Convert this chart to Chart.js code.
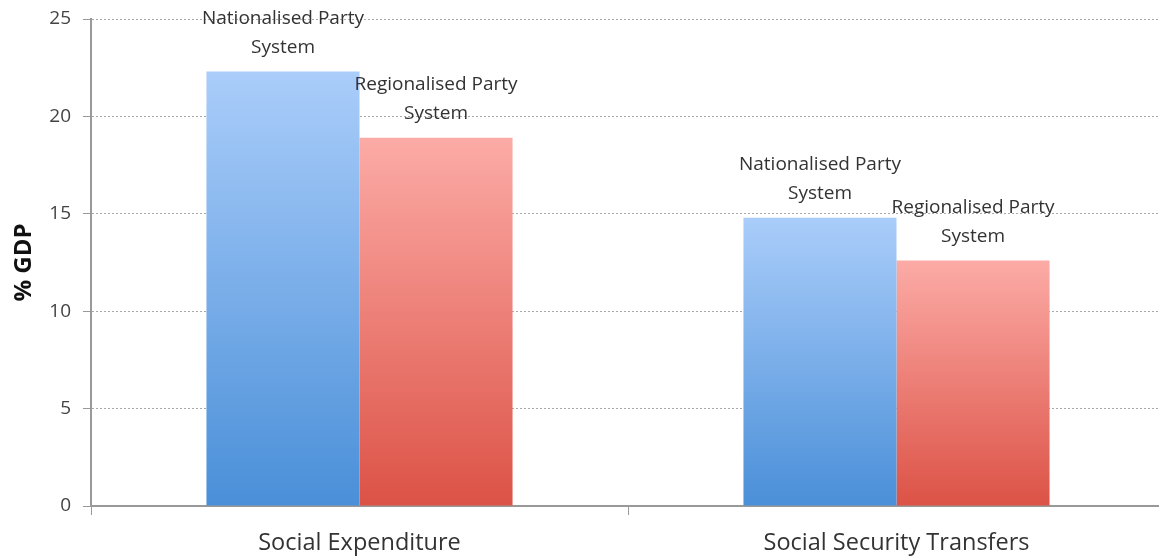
<!DOCTYPE html>
<html>
<head>
<meta charset="utf-8">
<script src="https://cdn.jsdelivr.net/npm/chart.js@4"></script>
<style>
    html, body { margin: 0; padding: 0; background: #fff; overflow: hidden; }
    #wrap { width: 1159px; height: 558px; overflow: hidden; }
</style>
</head>
<body>
<div id="wrap"><canvas id="chart" width="1165" height="558"></canvas></div>
<script>
const categories = ["Social Expenditure", "Social Security Transfers"];
const nationalised = [22.3, 14.8];
const regionalised = [18.9, 12.6];
const yTicks = [0, 5, 10, 15, 20, 25];

const textFont = "'Open Sans', sans-serif";

// vertical gradient per bar, light at the top, darker at the base
function barGradient(topColor, bottomColor) {
    return (context) => {
        const chart = context.chart;
        const { ctx, chartArea, scales } = chart;
        if (!chartArea || context.parsed == null) return bottomColor;
        const yTop = scales.y.getPixelForValue(context.parsed.y);
        const yBottom = scales.y.getPixelForValue(0);
        const g = ctx.createLinearGradient(0, yTop, 0, yBottom);
        g.addColorStop(0, topColor);
        g.addColorStop(1, bottomColor);
        return g;
    };
}

const barLabels = {
    id: "barLabels",
    afterDatasetsDraw(chart) {
        const ctx = chart.ctx;
        ctx.save();
        ctx.font = "19px " + textFont;
        ctx.fillStyle = "#333";
        ctx.textAlign = "center";
        ctx.textBaseline = "middle";
        chart.data.datasets.forEach((ds, i) => {
            const meta = chart.getDatasetMeta(i);
            meta.data.forEach(bar => {
                const lines = ds.label.split("|");
                ctx.fillText(lines[0], bar.x, bar.y - 53);
                ctx.fillText(lines[1], bar.x, bar.y - 24);
            });
        });
        ctx.restore();
    }
};

new Chart(document.getElementById("chart"), {
    type: "bar",
    data: {
        labels: categories,
        datasets: [{
            label: "Nationalised Party|System",
            data: nationalised,
            backgroundColor: barGradient("#aacdfa", "#4a8fd8"),
            categoryPercentage: 0.57,
            barPercentage: 1
        }, {
            label: "Regionalised Party|System",
            data: regionalised,
            backgroundColor: barGradient("#fcaba6", "#dc5246"),
            categoryPercentage: 0.57,
            barPercentage: 1
        }]
    },
    options: {
        responsive: false,
        animation: false,
        layout: { padding: { top: 19, right: 0, bottom: 0, left: 0 } },
        plugins: {
            legend: { display: false },
            tooltip: { enabled: false }
        },
        scales: {
            x: {
                afterFit(scale) { scale.height = 52; },
                grid: {
                    drawOnChartArea: false,
                    drawTicks: true,
                    tickLength: 9,
                    color: "#999"
                },
                border: { color: "#999", width: 2 },
                ticks: {
                    color: "#333",
                    padding: 14,
                    font: { family: textFont, size: 23.5 }
                }
            },
            y: {
                min: 0,
                max: 25,
                afterFit(scale) {
                    scale.width = 91;
                    scale.paddingTop = 0;
                    scale.paddingBottom = 0;
                },
                afterBuildTicks(scale) {
                    scale.ticks = yTicks.map(v => ({ value: v }));
                },
                grid: {
                    color: "#aaa",
                    tickLength: 8,
                    tickColor: "#999",
                    tickBorderDash: []
                },
                border: { color: "#999", width: 2, dash: [2, 2] },
                ticks: {
                    color: "#444",
                    padding: 12,
                    font: { family: textFont, size: 19 }
                },
                title: {
                    display: true,
                    text: "% GDP",
                    color: "#111",
                    padding: { top: 10, bottom: 0 },
                    font: { family: textFont, size: 24, weight: "bold" }
                }
            }
        }
    },
    plugins: [barLabels]
});
</script>
</body>
</html>
